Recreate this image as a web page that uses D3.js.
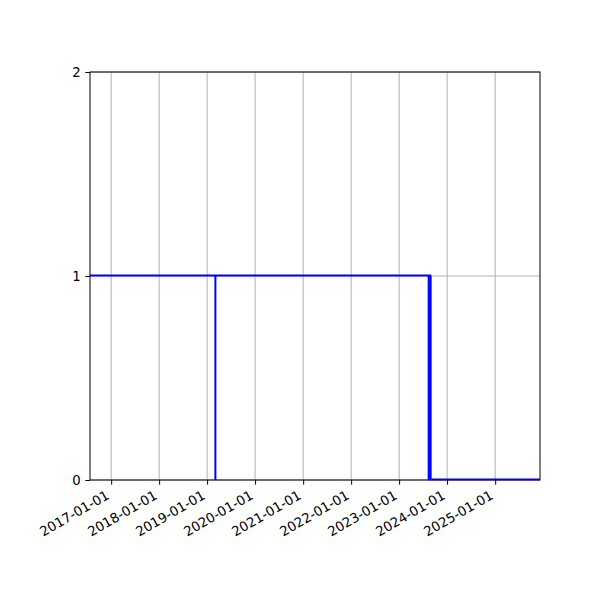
<!DOCTYPE html>
<html>
<head>
<meta charset="utf-8">
<script src="https://cdn.jsdelivr.net/npm/d3@7"></script>
<style>
  body { margin: 0; background: #fff; }
</style>
</head>
<body>
<div id="chart"></div>
<script>
// domaine de l'axe des dates
const xDomain = ["2016-07-24", "2025-12-08"];
const xTicks = ["2017-01-01", "2018-01-01", "2019-01-01", "2020-01-01", "2021-01-01",
                "2022-01-01", "2023-01-01", "2024-01-01", "2025-01-01"];
const yTicks = [0, 1, 2];

// série en escalier
const stepDates  = ["2016-07-24", "2023-08-26", "2023-08-26", "2025-12-08"];
const stepValues = [1, 1, 0, 0];

// traits verticaux
const vlineDates = ["2019-03-05", "2023-08-14", "2023-08-28"];

const parse = d3.timeParse("%Y-%m-%d");
const FONT = "DejaVu Sans";

const width = 600, height = 600;
const margin = { top: 72, right: 60, bottom: 120, left: 90 };
const iw = width - margin.left - margin.right;
const ih = height - margin.top - margin.bottom;

const svg = d3.select("#chart").append("svg")
  .attr("width", width).attr("height", height);

const g = svg.append("g").attr("transform", `translate(${margin.left},${margin.top})`);

const x = d3.scaleTime().domain(xDomain.map(parse)).range([0, iw]);
const y = d3.scaleLinear().domain([0, 2]).range([ih, 0]);

// grille
g.append("g").selectAll("line").data(xTicks).join("line")
  .attr("x1", d => x(parse(d))).attr("x2", d => x(parse(d)))
  .attr("y1", 0).attr("y2", ih)
  .attr("stroke", "#b0b0b0").attr("stroke-width", 1);
g.append("g").selectAll("line").data(yTicks).join("line")
  .attr("x1", 0).attr("x2", iw)
  .attr("y1", d => y(d)).attr("y2", d => y(d))
  .attr("stroke", "#b0b0b0").attr("stroke-width", 1);

// axes
const xAxis = g.append("g").attr("transform", `translate(0,${ih})`)
  .call(d3.axisBottom(x).tickValues(xTicks.map(parse)).tickFormat(d3.timeFormat("%Y-%m-%d"))
    .tickSize(4.7).tickPadding(4));
xAxis.attr("font-family", FONT).attr("font-size", 13.3);
xAxis.select(".domain").remove();
// étiquettes tournées de 30°, alignées à droite sur le tick
xAxis.selectAll("text")
  .attr("text-anchor", "end")
  .attr("x", 0).attr("y", 0).attr("dy", null)
  .attr("transform", "translate(-1.5,18) rotate(-30)");

const yAxis = g.append("g")
  .call(d3.axisLeft(y).tickValues(yTicks).tickFormat(d3.format("d")).tickSize(4.7).tickPadding(4.5));
yAxis.attr("font-family", FONT).attr("font-size", 13.3);
yAxis.select(".domain").remove();
svg.selectAll(".tick line").attr("stroke", "#000").attr("stroke-width", 1);
svg.selectAll(".tick text").attr("fill", "#000");

// cadre
g.append("rect").attr("width", iw).attr("height", ih)
  .attr("fill", "none").attr("stroke", "#000").attr("stroke-width", 1);

// tracés (le clip déborde d'un pixel en bas pour laisser voir le trait à 0)
svg.append("clipPath").attr("id", "clip").append("rect")
  .attr("x", 0).attr("y", -1)
  .attr("width", iw).attr("height", ih + 1.5);
const plot = g.append("g").attr("clip-path", "url(#clip)");

const stepData = stepDates.map((d, i) => ({ date: parse(d), value: stepValues[i] }));
plot.append("path")
  .datum(stepData)
  .attr("d", d3.line().x(d => x(d.date)).y(d => y(d.value) - 0.5))
  .attr("fill", "none")
  .attr("stroke", "#0000ff")
  .attr("stroke-width", 2);

plot.selectAll("line.vline").data(vlineDates).join("line")
  .attr("class", "vline")
  .attr("x1", d => x(parse(d))).attr("x2", d => x(parse(d)))
  .attr("y1", y(0)).attr("y2", y(1))
  .attr("stroke", "#0000ff")
  .attr("stroke-width", 2);
</script>
</body>
</html>
